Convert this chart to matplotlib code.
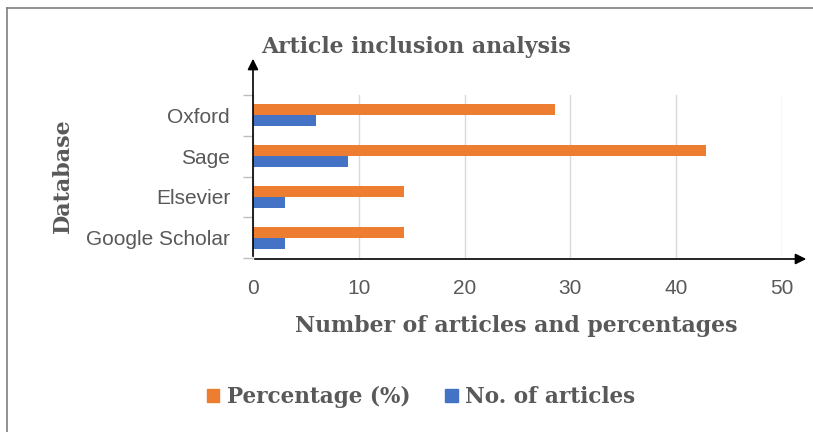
import numpy as np
import matplotlib.pyplot as plt
from matplotlib.lines import Line2D
from matplotlib.patches import Patch

# Data
databases = ['Google Scholar', 'Elsevier', 'Sage', 'Oxford']
no_articles = [3, 3, 9, 6]
percentage = [14.29, 14.29, 42.86, 28.57]
x_ticks = [0, 10, 20, 30, 40, 50]

orange = '#ED7D31'
blue = '#4472C4'
grey = '#595959'

fig = plt.figure(figsize=(8.13, 4.32), dpi=100)
ax = fig.add_axes([253 / 813, 1 - 258 / 432, 529 / 813, 163 / 432])

y = np.arange(len(databases))
h = 0.27
ax.barh(y + h / 2, percentage, height=h, color=orange, label='Percentage (%)', zorder=3)
ax.barh(y - h / 2, no_articles, height=h, color=blue, label='No. of articles', zorder=3)

ax.set_xlim(0, 50)
ax.set_ylim(-0.5, 3.5)
ax.set_xticks(x_ticks)
ax.set_yticks(y)
ax.set_yticklabels(databases)
ax.set_yticks(np.arange(-0.5, 3.6, 1), minor=True)
ax.tick_params(axis='y', which='major', length=0, pad=16.5, labelsize=15, labelcolor=grey)
ax.tick_params(axis='y', which='minor', length=7, color='#BFBFBF', width=1)
ax.tick_params(axis='x', length=0, pad=15, labelsize=15, labelcolor=grey)
for lbl in ax.get_xticklabels() + ax.get_yticklabels():
    lbl.set_family('Liberation Sans')

ax.grid(axis='x', color='#D9D9D9', linewidth=1, zorder=0)
for s in ax.spines.values():
    s.set_visible(False)

# axis arrows
ax.annotate('', xy=(253 / 813, 1 - 56 / 432), xytext=(253 / 813, 1 - 259 / 432),
            xycoords='figure fraction', textcoords='figure fraction',
            arrowprops=dict(arrowstyle='-|>', color='black', lw=1.2, mutation_scale=16))
ax.annotate('', xy=(809 / 813, 1 - 259 / 432), xytext=(252 / 813, 1 - 259 / 432),
            xycoords='figure fraction', textcoords='figure fraction',
            arrowprops=dict(arrowstyle='-|>', color='black', lw=1.2, mutation_scale=16))

serif = 'DejaVu Serif'
fig.text(261 / 813, 1 - 47 / 432, 'Article inclusion analysis', fontsize=15.8,
         fontweight='bold', family=serif, color=grey, va='center', ha='left')
fig.text(63 / 813, 1 - 176 / 432, 'Database', fontsize=16, fontweight='bold',
         family=serif, color=grey, rotation=90, va='center', ha='center')
fig.text(516 / 813, 1 - 326 / 432, 'Number of articles and percentages', fontsize=15.8,
         fontweight='bold', family=serif, color=grey, va='center', ha='center')

handles = [Patch(color=orange, label='Percentage (%)'), Patch(color=blue, label='No. of articles')]
leg = fig.legend(handles=handles, loc='center', bbox_to_anchor=(421 / 813, 1 - 397 / 432),
                 ncol=2, frameon=False, handlelength=0.6, handleheight=0.6,
                 columnspacing=1.6, handletextpad=0.35,
                 prop={'family': serif, 'weight': 'bold', 'size': 15.5})
for t in leg.get_texts():
    t.set_color(grey)

# outer frame
fig.add_artist(Line2D([7 / 813, 1], [1 - 8 / 432, 1 - 8 / 432], color='#7F7F7F', lw=1.2,
                      transform=fig.transFigure))
fig.add_artist(Line2D([7 / 813, 7 / 813], [0, 1 - 8 / 432], color='#7F7F7F', lw=1.2,
                      transform=fig.transFigure))

fig.savefig('out.png', dpi=100)
